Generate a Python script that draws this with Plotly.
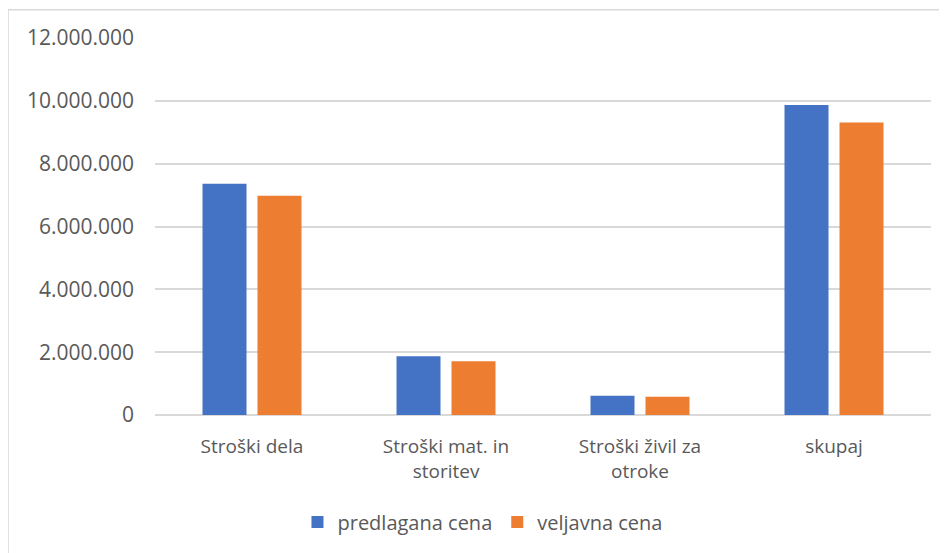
import plotly.graph_objects as go

categories = ["Stroški dela", "Stroški mat. in<br>storitev", "Stroški živil za<br>otroke", "skupaj"]
predlagana = [7360000, 1870000, 615000, 9870000]
veljavna = [6980000, 1710000, 580000, 9310000]
series_names = ["predlagana cena", "veljavna cena"]

FONT = "Open Sans"
GRAY = "#595959"

fig = go.Figure()
fig.add_trace(go.Bar(x=categories, y=predlagana, name=series_names[0], marker_color="#4472C4",
                     marker_line_width=0))
fig.add_trace(go.Bar(x=categories, y=veljavna, name=series_names[1], marker_color="#ED7D31",
                     marker_line_width=0))

# page body has an 8px margin, so the figure is drawn 8px right/down
fig.update_layout(
    width=947, height=553,
    margin=dict(l=147, r=24, t=30, b=146),
    paper_bgcolor="white", plot_bgcolor="white",
    barmode="group", bargap=0.433, bargroupgap=0.2,
    separators=",.",
    font=dict(family=FONT, size=19, color=GRAY),
    showlegend=True,
    legend=dict(orientation="h", x=0.422, xanchor="center", y=-0.284, yanchor="middle",
                font=dict(size=20, color=GRAY), itemwidth=30, traceorder="normal"),
    xaxis=dict(showgrid=False, showline=False, ticks="", tickfont=dict(size=19, color=GRAY),
               ticklabelstandoff=18),
    yaxis=dict(range=[0, 12000000], dtick=2000000, tickformat=",d", showgrid=True,
               gridcolor="#D9D9D9", gridwidth=1.5, zeroline=True, zerolinecolor="#D9D9D9",
               zerolinewidth=1.5, showline=False, ticks="", tickfont=dict(size=21, color=GRAY),
               ticklabelstandoff=20),
    shapes=[dict(type="rect", xref="paper", yref="paper", x0=-0.1894, x1=1.2, y0=-0.6, y1=1.075,
                 line=dict(color="#D9D9D9", width=1.5), fillcolor="rgba(0,0,0,0)", layer="below")],
)

fig.write_html("out.html")
